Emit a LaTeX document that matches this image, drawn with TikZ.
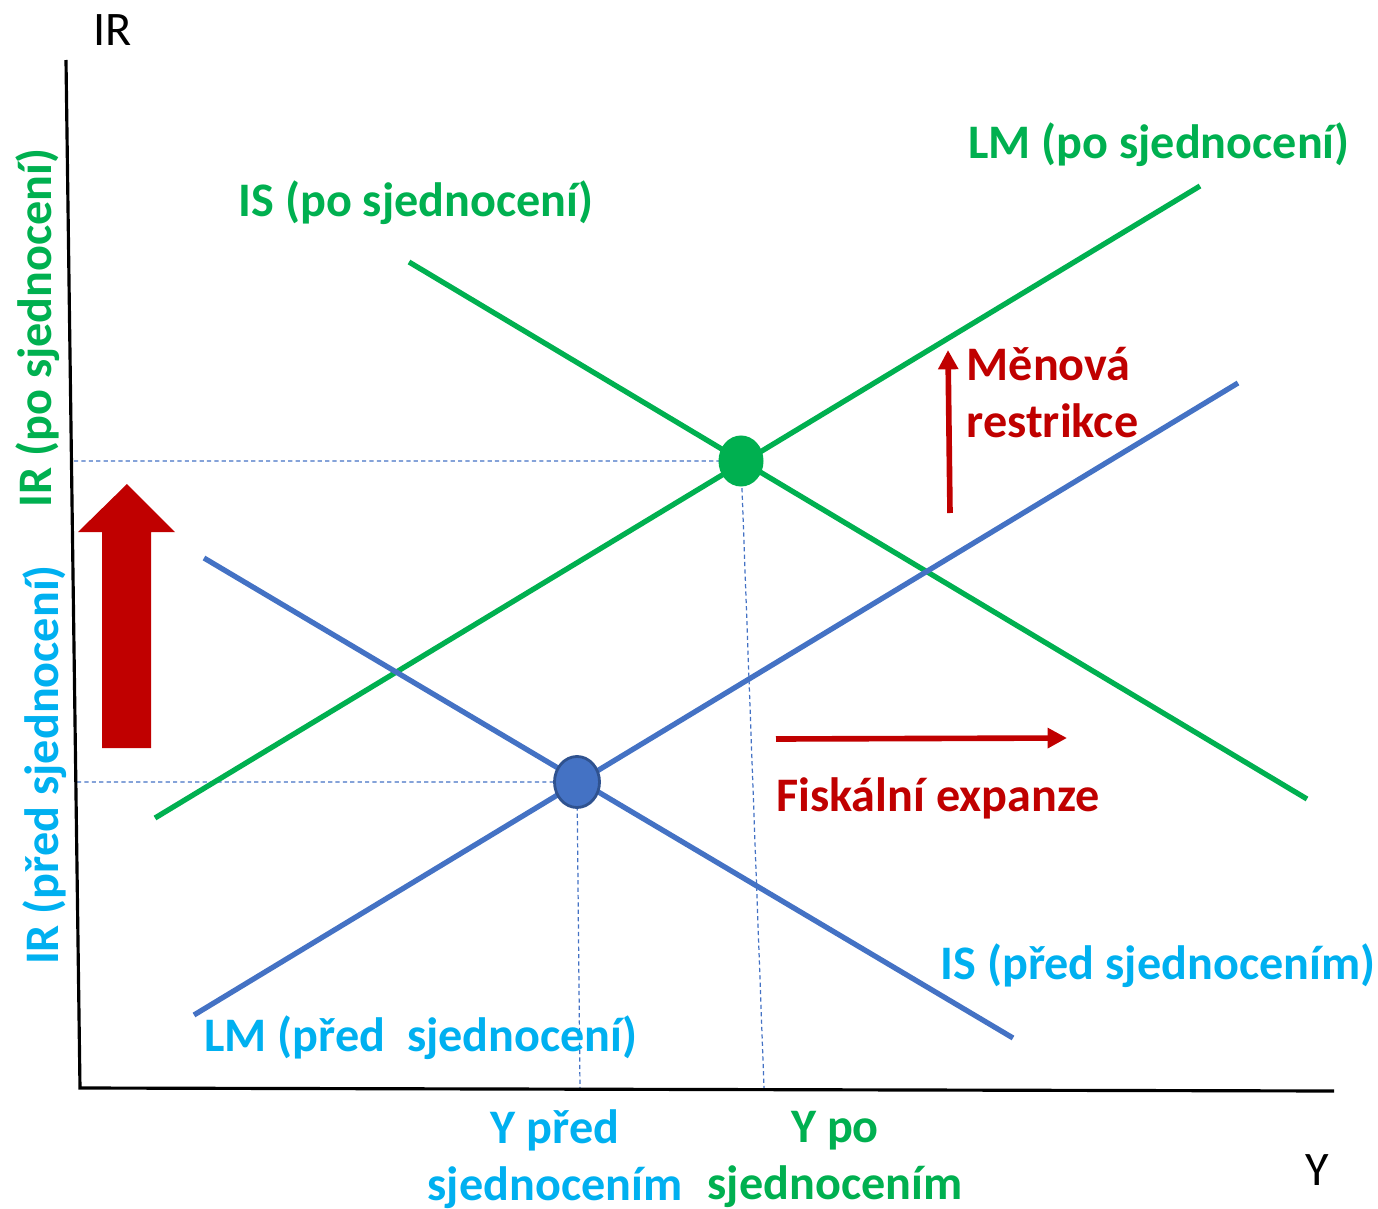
\documentclass[tikz,border=0pt]{standalone}
\usepackage{fontspec}
\setmainfont{Carlito}
\usetikzlibrary{arrows.meta,shapes.geometric}
\definecolor{aftergreen}{HTML}{00B050}
\definecolor{beforeblue}{HTML}{00B0F0}
\definecolor{lineblue}{HTML}{4472C4}
\definecolor{dotedge}{HTML}{2F528F}
\definecolor{policyred}{HTML}{C00000}
\begin{document}
\begin{tikzpicture}[x=0.01cm, y=-0.01cm,
  curve/.style={line width=1.5pt},
  guide/.style={draw=lineblue, line width=0.35pt, dash pattern=on 1.2pt off 0.9pt},
  lbl/.style={font=\fontsize{13.7}{16.2}\selectfont\bfseries, align=center, inner sep=0pt},
  axislbl/.style={font=\fontsize{13.7}{16.2}\selectfont, inner sep=0pt},
  dot/.style={ellipse, minimum width=0.45cm, minimum height=0.51cm, inner sep=0pt},
  policy/.style={draw=policyred, line width=1.6pt, -{Triangle[length=5.5pt,width=5.5pt]}}]
\useasboundingbox (0,0) rectangle (1378,1209);
\coordinate (ytop) at (66,60);
\coordinate (origin) at (80,1088);
\coordinate (xend) at (1334,1091);
\coordinate (e1) at (741,461);
\coordinate (e0) at (577,782);
\coordinate (irpo) at (74,461);
\coordinate (irpred) at (77,782);
\coordinate (ypo) at (764,1088);
\coordinate (ypred) at (580,1088);
\draw[guide] (irpo) -- (e1) -- (ypo);
\draw[guide] (irpred) -- (e0) -- (ypred);
\draw[line width=0.9pt] (ytop) -- (origin) -- (xend);
\node[axislbl] (irlbl) at (113,30) {IR};
\node[axislbl] (ylbl) at (1317,1170) {Y};
\coordinate (ispo-a) at (409,262);
\coordinate (ispo-b) at (1307,799);
\coordinate (lmpo-a) at (155,818);
\coordinate (lmpo-b) at (1200,186);
\coordinate (ispred-a) at (204,558);
\coordinate (ispred-b) at (1013,1038);
\coordinate (lmpred-a) at (194,1015);
\coordinate (lmpred-b) at (1238,383);
\draw[curve, aftergreen] (ispo-a) -- (ispo-b);
\draw[curve, aftergreen] (lmpo-a) -- (lmpo-b);
\draw[curve, lineblue] (ispred-a) -- (ispred-b);
\draw[curve, lineblue] (lmpred-a) -- (lmpred-b);
\node[dot, fill=aftergreen] (eqpo) at (e1) {};
\node[dot, fill=lineblue, draw=dotedge, line width=0.8pt] (eqpred) at (e0) {};
\fill[policyred] (102,748) -- (102,532) -- (78,532) -- (127,484) -- (175,532) -- (151,532) -- (151,748) -- cycle;
\coordinate (mr-a) at (950,513);
\coordinate (mr-b) at (948,350);
\coordinate (fe-a) at (776,739);
\coordinate (fe-b) at (1067,738);
\draw[policy] (mr-a) -- (mr-b);
\draw[policy] (fe-a) -- (fe-b);
\node[lbl, text=aftergreen] (ispolbl) at (416,203) {IS (po sjednocení)};
\node[lbl, text=aftergreen] (lmpolbl) at (1159,145) {LM (po sjednocení)};
\node[lbl, text=beforeblue] (ispredlbl) at (1158,966) {IS (před sjednocením)};
\node[lbl, text=beforeblue] (lmpredlbl) at (421,1038) {LM (před\ \ sjednocení)};
\node[lbl, text=policyred, align=left, anchor=west] (mrlbl) at (966,393) {Měnová\\restrikce};
\node[lbl, text=policyred] (felbl) at (938,798) {Fiskální expanze};
\node[lbl, text=beforeblue] (ypredlbl) at (555,1159) {Y před\\sjednocením};
\node[lbl, text=aftergreen] (ypolbl) at (835,1159) {Y po\\sjednocením};
\node[lbl, text=aftergreen, rotate=90] (irpolbl) at (38,328) {IR (po sjednocení)};
\node[lbl, text=beforeblue, rotate=90] (irpredlbl) at (45,765) {IR (před sjednocení)};
\end{tikzpicture}
\end{document}
